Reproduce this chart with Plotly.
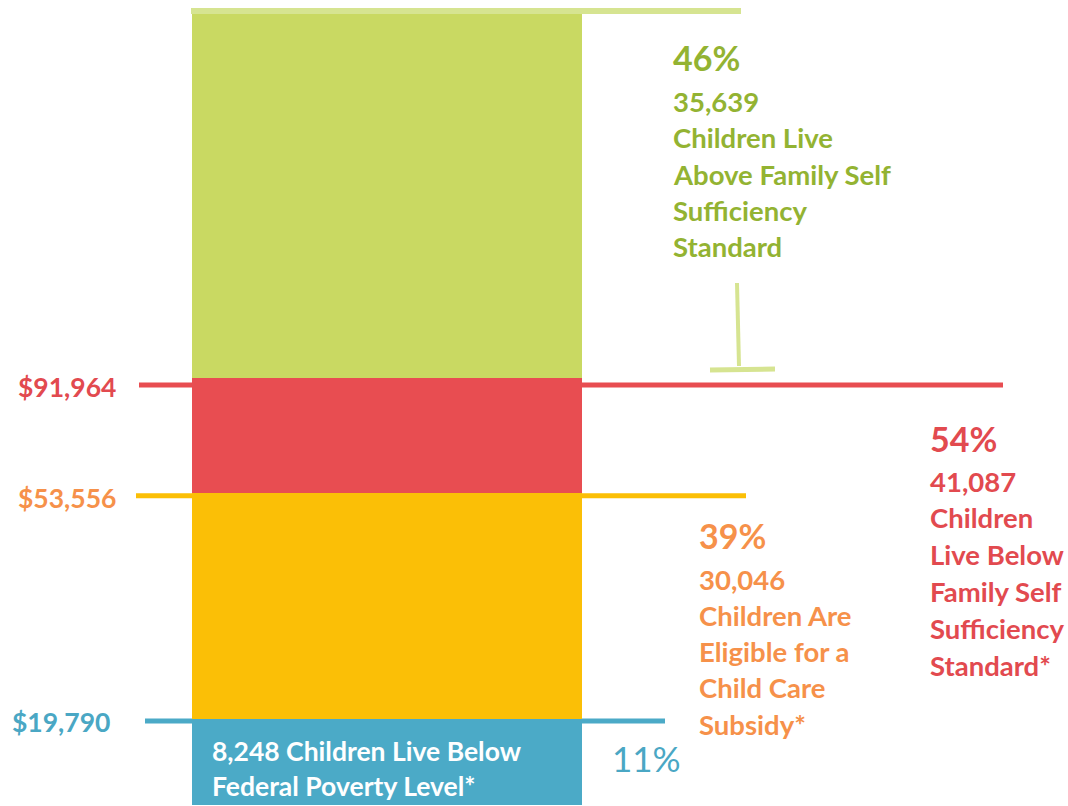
import plotly.graph_objects as go

# Children by household income band (stacked from the bottom up)
bands = ["Below Federal Poverty Level", "Eligible for Child Care Subsidy",
         "Below Family Self Sufficiency", "Above Family Self Sufficiency"]
band_children = [8248, 21798, 11041, 35639]
band_colors = ["#4baac7", "#fbbf06", "#e84d51", "#c9d962"]

# Income thresholds marking the band boundaries
thresholds = ["$19,790", "$53,556", "$91,964"]
threshold_colors = ["#4aa7c4", "#f6914a", "#e24a4f"]

# Headline figures
pct_above_fss = "46%"
count_above_fss = "35,639"
pct_below_fss = "54%"
count_below_fss = "41,087"
pct_subsidy = "39%"
count_subsidy = "30,046"
pct_poverty = "11%"
count_poverty = "8,248"

W, H = 1068, 806
Y_MIN, Y_MAX = -130, 77500

def paper_y(px):
    return 1 - px / H

fig = go.Figure()
for name, val, col in zip(bands, band_children, band_colors):
    fig.add_trace(go.Bar(x=[387], y=[val], width=[390], name=name,
                         marker=dict(color=col, line=dict(width=0)),
                         hoverinfo="skip", showlegend=False))

cum = []
total = 0
for v in band_children:
    total += v
    cum.append(total)

LIGHT_GREEN = "#d6e491"

def hline(x0, x1, anchor, off, color, w, layer="below"):
    return dict(type="line", xref="x", yref="y", ysizemode="pixel",
                yanchor=anchor, x0=x0, x1=x1, y0=off, y1=off,
                line=dict(color=color, width=w), layer=layer)

shapes = [
    hline(191, 741, cum[3], -3, LIGHT_GREEN, 6, layer="above"),
    hline(139, 1003, cum[2], -7, "#e84d51", 5),
    hline(136, 746, cum[1], -3, "#fbbf06", 5),
    hline(145, 665, cum[0], -2, "#4baac7", 5),
    # marker pointing down to the self-sufficiency threshold
    dict(type="line", xref="x", yref="y", ysizemode="pixel", yanchor=cum[2],
         x0=737, x1=739, y0=95, y1=12, line=dict(color=LIGHT_GREEN, width=4)),
    dict(type="line", xref="x", yref="y", ysizemode="pixel", yanchor=cum[2],
         x0=710, x1=775, y0=8, y1=9, line=dict(color=LIGHT_GREEN, width=5)),
]

FONT = "Lato"
annotations = []

def label(text, x, py, color, size, weight="bold"):
    annotations.append(dict(text=text, x=x, y=paper_y(py), xref="x", yref="paper",
                            xanchor="left", yanchor="middle", showarrow=False,
                            font=dict(family=FONT, size=size, color=color, weight=weight)))

PCT = 34
BODY = 27.5

green_txt = "#93b332"
label(pct_above_fss, 671, 57, green_txt, PCT)
for i, t in enumerate([count_above_fss, "Children Live", "Above Family Self",
                       "Sufficiency", "Standard"]):
    label(t, 671, 101 + i * 36.5, green_txt, BODY)

red_txt = "#e24a4f"
label(pct_below_fss, 928, 438, red_txt, PCT)
for i, t in enumerate([count_below_fss, "Children", "Live Below", "Family Self",
                       "Sufficiency", "Standard*"]):
    label(t, 928, 481 + i * 36.8, red_txt, BODY)

orange_txt = "#f6914a"
label(pct_subsidy, 697, 535, orange_txt, PCT)
for i, t in enumerate([count_subsidy, "Children Are", "Eligible for a",
                       "Child Care", "Subsidy*"]):
    label(t, 697, 579 + i * 36.3, orange_txt, BODY)

label(thresholds[2], 16, 387, threshold_colors[2], 26.5)
label(thresholds[1], 16, 498, threshold_colors[1], 26.5)
label(thresholds[0], 10, 722, threshold_colors[0], 26.5)

label(count_poverty + " Children Live Below", 210, 751, "white", 26.5)
label("Federal Poverty Level*", 210, 786, "white", 26.5)
label(pct_poverty, 610, 758, threshold_colors[0], 35, weight="normal")

fig.update_layout(
    width=W, height=H, margin=dict(l=0, r=0, t=0, b=0),
    barmode="stack", bargap=0,
    paper_bgcolor="white", plot_bgcolor="white",
    xaxis=dict(range=[0, W], visible=False, fixedrange=True),
    yaxis=dict(range=[Y_MIN, Y_MAX], visible=False, fixedrange=True),
    shapes=shapes, annotations=annotations,
)

fig.write_html("out.html")
